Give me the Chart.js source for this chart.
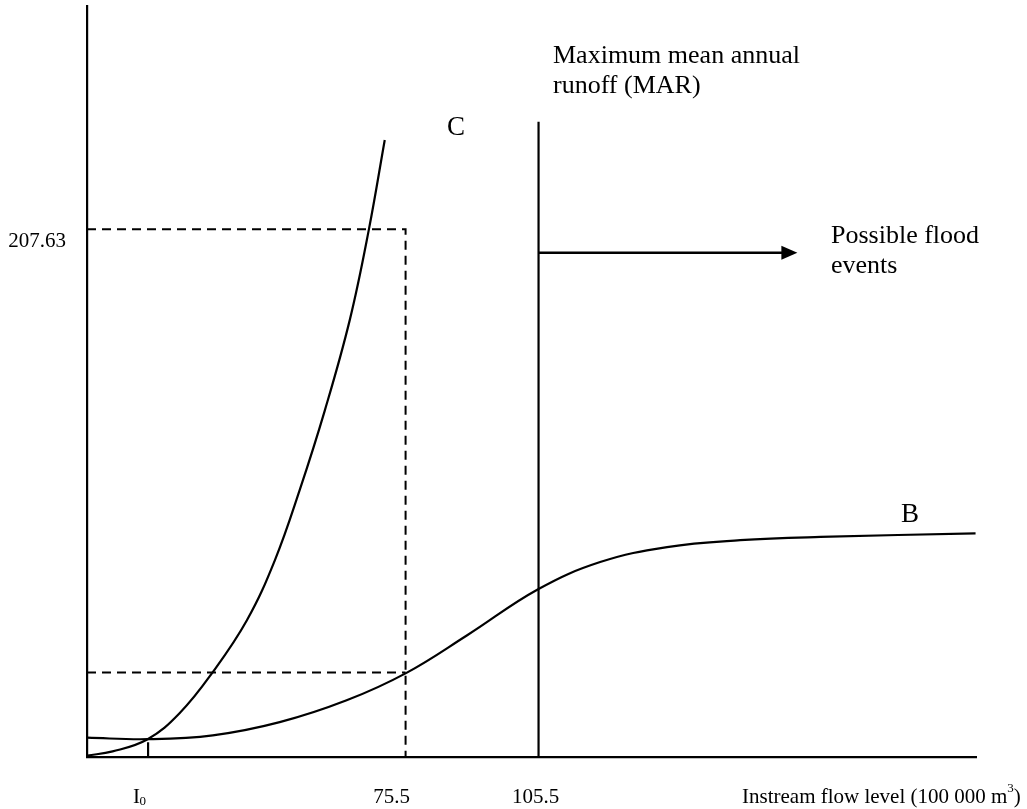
<!DOCTYPE html>
<html>
<head>
<meta charset="utf-8">
<script src="https://cdn.jsdelivr.net/npm/chart.js@4/dist/chart.umd.min.js"></script>
<style>
  body { margin: 0; background: #fff; }
  canvas { display: block; }
</style>
</head>
<body>
<canvas id="myChart" width="1027" height="809"></canvas>
<script>
// curve C (rises steeply)
var curveCX = [3.7, 9.4, 17.3, 24.5, 32.0, 39.7, 46.0, 51.6, 57.3, 62.9, 67.2, 70.8];
var curveCY = [0.6, 2.2, 7.0, 17.2, 33.4, 53.8, 77.4, 105.0, 136.5, 171.9, 207.4, 242.8];
// curve B (s-shaped)
var curveBX = [3.7, 17.3, 32.0, 47.1, 62.2, 75.6, 89.4, 105.4, 119.4, 134.5, 151.0, 169.1, 204.1];
var curveBY = [7.6, 7.0, 8.5, 13.7, 22.3, 33.0, 47.9, 66.0, 76.7, 82.6, 85.3, 86.6, 88.0];

var xMin = 3.62, xMax = 204.2;
var yMin = 0, yMax = 295.5;

var xTickValues = [17.4, 75.5, 105.5];
var xTickLabels = ['I0', '75.5', '105.5'];
var yTickValues = [207.63];
var yTickLabels = ['207.63'];

var lowLevel = 33.2;      // lower dashed level
var marTop = 250;         // top of MAR line
var floodLevel = 198.4;   // arrow level
var floodEnd = 163.9;     // arrow tip
var tickI0Top = 5.8;

function pts(xs, ys) {
    return xs.map(function(x, i) { return {x: x, y: ys[i]}; });
}

var black = '#000';
var serif = '"Liberation Serif", "Times New Roman", serif';

var textPlugin = {
    id: 'texts',
    afterDraw: function(chart) {
        var ctx = chart.ctx;
        var xs = chart.scales.x, ys = chart.scales.y;
        ctx.save();
        ctx.fillStyle = black;

        // arrow head
        var tx = xs.getPixelForValue(floodEnd), ty = ys.getPixelForValue(floodLevel);
        ctx.beginPath();
        ctx.moveTo(tx, ty);
        ctx.lineTo(tx - 16, ty - 7);
        ctx.lineTo(tx - 16, ty + 7);
        ctx.closePath();
        ctx.fill();

        // tick labels
        ctx.font = '21px ' + serif;
        ctx.textBaseline = 'middle';
        ctx.textAlign = 'right';
        yTickValues.forEach(function(v, i) {
            ctx.fillText(yTickLabels[i], 66, ys.getPixelForValue(v) + 12);
        });
        var xOff = [-8, -14, -3];
        xTickValues.forEach(function(v, i) {
            var px = xs.getPixelForValue(v) + xOff[i];
            if (xTickLabels[i] === 'I0') {
                ctx.textAlign = 'left';
                ctx.font = '21px ' + serif;
                ctx.fillText('I', px - 7, 797);
                ctx.font = '13px ' + serif;
                ctx.fillText('0', px - 0.5, 802);
            } else {
                ctx.textAlign = 'center';
                ctx.font = '21px ' + serif;
                ctx.fillText(xTickLabels[i], px, 797);
            }
        });

        // axis title
        ctx.textAlign = 'left';
        ctx.font = '21px ' + serif;
        var t1 = 'Instream flow level (100 000 m';
        ctx.fillText(t1, 742, 797);
        var w1 = ctx.measureText(t1).width;
        ctx.font = '13px ' + serif;
        ctx.fillText('3', 742 + w1, 789);
        var w2 = ctx.measureText('3').width;
        ctx.font = '21px ' + serif;
        ctx.fillText(')', 742 + w1 + w2, 797);

        // annotations
        ctx.textBaseline = 'alphabetic';
        ctx.font = '26px ' + serif;
        ctx.fillText('Maximum mean annual', 553, 63);
        ctx.fillText('runoff (MAR)', 553, 93);
        ctx.fillText('Possible flood', 831, 243);
        ctx.fillText('events', 831, 273);
        ctx.textAlign = 'center';
        ctx.font = '27px ' + serif;
        ctx.fillText('C', 456, 135);
        ctx.fillText('B', 910, 522);
        ctx.restore();
    }
};

var solid = {borderColor: black, borderWidth: 2.2, pointRadius: 0, fill: false, tension: 0};
function ds(data, extra) {
    return Object.assign({data: data}, solid, extra || {});
}

new Chart(document.getElementById('myChart').getContext('2d'), {
    type: 'line',
    data: {
        datasets: [
            ds(pts(curveCX, curveCY), {tension: 0.4}),
            ds(pts(curveBX, curveBY), {tension: 0.4}),
            ds([{x: xMin, y: yTickValues[0]}, {x: xTickValues[1], y: yTickValues[0]}, {x: xTickValues[1], y: 0}], {borderDash: [9, 6], borderWidth: 2}),
            ds([{x: xMin, y: lowLevel}, {x: xTickValues[1], y: lowLevel}], {borderDash: [9, 6], borderWidth: 2}),
            ds([{x: xTickValues[2], y: 0}, {x: xTickValues[2], y: marTop}]),
            ds([{x: xTickValues[2], y: floodLevel}, {x: floodEnd - 3, y: floodLevel}], {borderWidth: 2.5}),
            ds([{x: xTickValues[0], y: 0}, {x: xTickValues[0], y: tickI0Top}])
        ]
    },
    options: {
        responsive: false,
        animation: false,
        layout: {padding: {left: 87, right: 51, top: 6, bottom: 52}},
        plugins: {legend: {display: false}, tooltip: {enabled: false}},
        scales: {
            x: {
                type: 'linear', min: xMin, max: xMax,
                grid: {display: false, drawTicks: false},
                ticks: {display: false},
                border: {color: black, width: 2.2}
            },
            y: {
                type: 'linear', min: yMin, max: yMax,
                grid: {display: false, drawTicks: false},
                ticks: {display: false},
                border: {color: black, width: 2.2}
            }
        }
    },
    plugins: [textPlugin]
});
</script>
</body>
</html>
